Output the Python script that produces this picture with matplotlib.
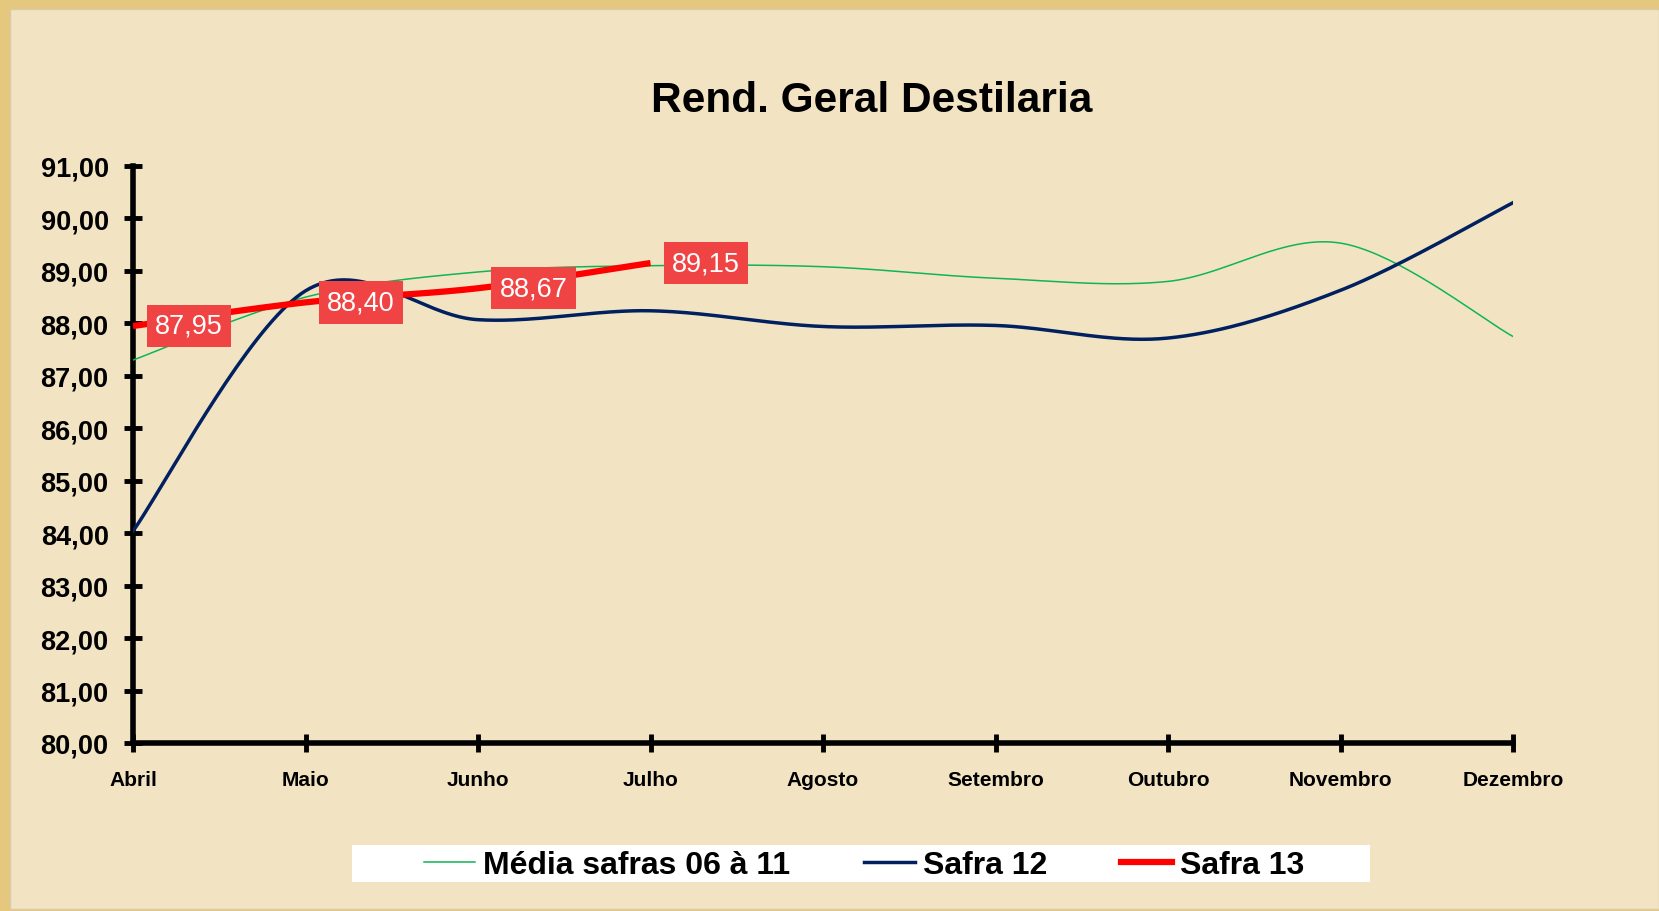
import numpy as np
import matplotlib
matplotlib.use("Agg")
import matplotlib.pyplot as plt
from matplotlib.patches import Rectangle
from matplotlib.lines import Line2D

plt.rcParams['font.family'] = ['Liberation Sans', 'DejaVu Sans']

# Data
months = ["Abril", "Maio", "Junho", "Julho", "Agosto", "Setembro",
          "Outubro", "Novembro", "Dezembro"]
media_06_11 = [87.30, 88.50, 88.98, 89.10, 89.08, 88.86, 88.80, 89.53, 87.75]
safra_12 = [84.04, 88.62, 88.07, 88.24, 87.94, 87.96, 87.72, 88.63, 90.30]
safra_13 = [87.95, 88.40, 88.67, 89.15]
labels_13 = ["87,95", "88,40", "88,67", "89,15"]
yticks = np.arange(80, 92, 1)


def smooth(xs, ys, n=40):
    # Excel-like smoothed line (Catmull-Rom bezier through the points)
    p = np.column_stack([xs, ys]).astype(float)
    p = np.vstack([p[0], p, p[-1]])
    out = []
    for i in range(1, len(p) - 2):
        p0, p1, p2, p3 = p[i - 1], p[i], p[i + 1], p[i + 2]
        c1 = p1 + (p2 - p0) / 6
        c2 = p2 - (p3 - p1) / 6
        t = np.linspace(0, 1, n)[:, None]
        seg = ((1 - t) ** 3) * p1 + 3 * ((1 - t) ** 2) * t * c1 + 3 * (1 - t) * t ** 2 * c2 + t ** 3 * p2
        out.append(seg if i == 1 else seg[1:])
    seg = np.vstack(out)
    return seg[:, 0], seg[:, 1]


fig = plt.figure(figsize=(16.59, 9.12), dpi=100)
fig.patch.set_facecolor('#E6C77E')
# parchment panel
fig.patches.append(Rectangle((10 / 1659, 2 / 912), 1 - 10 / 1659, 1 - 12 / 912,
                             transform=fig.transFigure, facecolor='#F2E4C3',
                             edgecolor='#D9CBA8', linewidth=1, zorder=-2))

ax = fig.add_axes([133 / 1659, 1 - 744 / 912, (1513 - 133) / 1659, (744 - 167) / 912])
ax.set_facecolor('none')
ax.set_zorder(3)

x = np.arange(len(months))
gx, gy = smooth(x, media_06_11)
ax.plot(gx, gy, color='#10B455', lw=1.1, zorder=3)
nx, ny = smooth(x, safra_12)
ax.plot(nx, ny, color='#002060', lw=2.5, zorder=4)
rx, ry = smooth(x[:len(safra_13)], safra_13)
ax.plot(rx, ry, color='#FF0000', lw=4.5, zorder=5, solid_capstyle='butt')

for xi, yi, lab in zip(x, safra_13, labels_13):
    ax.annotate(lab, (xi, yi), xytext=(40, 0), textcoords='offset points',
                ha='center', va='center', fontsize=19.5, color='white', zorder=6,
                bbox=dict(boxstyle='square,pad=0.3', facecolor='#F04444', edgecolor='none'))

ax.set_xlim(0, len(months) - 1)
ax.set_ylim(80, 91)
ax.set_yticks(yticks)
ax.set_yticklabels([f"{v:.2f}".replace('.', ',') for v in yticks],
                   fontsize=19.5, fontweight='bold')
ax.set_xticks(x)
ax.set_xticklabels(months, fontsize=15, fontweight='bold')
ax.tick_params(axis='y', direction='inout', length=13, width=3.5, pad=11)
ax.tick_params(axis='x', direction='inout', length=13, width=3.5, pad=13)
for s in ['top', 'right']:
    ax.spines[s].set_visible(False)
for s in ['left', 'bottom']:
    ax.spines[s].set_linewidth(4)
    ax.spines[s].set_capstyle('projecting')

fig.text(872 / 1659, 1 - 101 / 912, "Rend. Geral Destilaria", ha='center', va='center',
         fontsize=30.5, fontweight='bold')

# legend
fig.patches.append(Rectangle((352 / 1659, 1 - 883 / 912), (1370 - 352) / 1659, 37 / 912,
                             transform=fig.transFigure, facecolor='white',
                             edgecolor='none', zorder=1))
handles = [Line2D([], [], color='#10B455', lw=1.1),
           Line2D([], [], color='#002060', lw=2.5),
           Line2D([], [], color='#FF0000', lw=4.5)]
leg = fig.legend(handles, ["Média safras 06 à 11", "Safra 12", "Safra 13"],
                 loc='center', bbox_to_anchor=(864 / 1659, 1 - 866 / 912), ncol=3,
                 frameon=False, handlelength=1.6, handletextpad=0.25,
                 columnspacing=2.3, prop=dict(size=23, weight='bold'))
leg.set_zorder(4)

fig.savefig("out.png", dpi=100)
